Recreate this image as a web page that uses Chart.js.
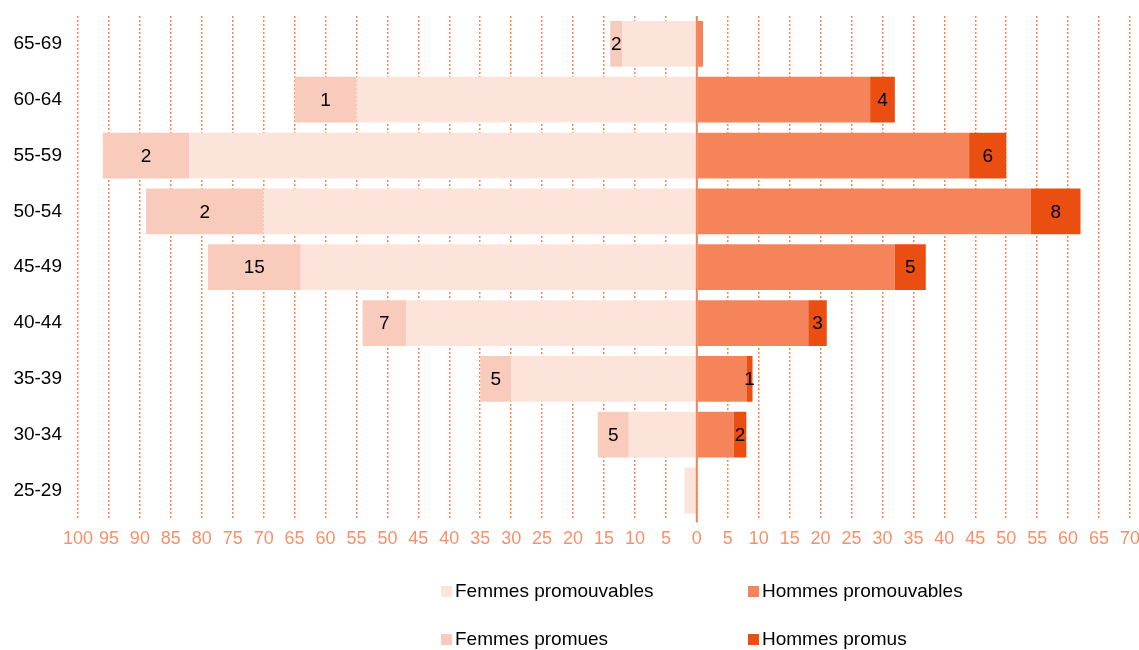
<!DOCTYPE html>
<html>
<head>
<meta charset="utf-8">
<script src="https://cdn.jsdelivr.net/npm/chart.js@4.4.1/dist/chart.umd.min.js"></script>
<style>
  html, body { margin: 0; padding: 0; background: #ffffff; }
  #wrap { position: relative; width: 1139px; height: 650px; }
</style>
</head>
<body>
<div id="wrap"><canvas id="c" width="1139" height="650"></canvas></div>
<script>
// ---- Data ----
const categories = ["65-69", "60-64", "55-59", "50-54", "45-49", "40-44", "35-39", "30-34", "25-29"];
const femmesPromouvables = [12, 55, 82, 70, 64, 47, 30, 11, 2];
const femmesPromues = [2, 10, 14, 19, 15, 7, 5, 5, 0];
const hommesPromouvables = [1, 28, 44, 54, 32, 18, 8, 6, 0];
const hommesPromus = [0, 4, 6, 8, 5, 3, 1, 2, 0];
const femmesLabels = ["2", "1", "2", "2", "15", "7", "5", "5", ""];
const hommesLabels = ["", "4", "6", "8", "5", "3", "1", "2", ""];
const seriesNames = ["Femmes promouvables", "Hommes promouvables", "Femmes promues", "Hommes promus"];
const axisMin = -100, axisMax = 70, axisStep = 5;

const colors = {
  fPromouvables: "#FCE4DB",
  fPromues: "#F9CBBC",
  hPromouvables: "#F5845B",
  hPromus: "#EA4E10",
  grid: "#F5845B",
  tick: "#F5916A"
};
const FONT = "'Liberation Sans', Arial, sans-serif";

// Bar labels plugin
const barLabels = {
  id: "barLabels",
  afterDatasetsDraw(chart) {
    const ctx = chart.ctx;
    ctx.save();
    ctx.font = "19px " + FONT;
    ctx.fillStyle = "#000000";
    ctx.textAlign = "center";
    ctx.textBaseline = "middle";
    chart.data.datasets.forEach((ds, di) => {
      if (!ds.segLabels) return;
      const meta = chart.getDatasetMeta(di);
      meta.data.forEach((el, i) => {
        const t = ds.segLabels[i];
        if (!t) return;
        const p = el.getProps(["x", "y", "base"], true);
        ctx.fillText(t, (p.x + p.base) / 2, p.y + 1);
      });
    });
    ctx.restore();
  }
};

// Zero line plugin
const zeroLine = {
  id: "zeroLine",
  afterDatasetsDraw(chart) {
    const x = chart.scales.x.getPixelForValue(0);
    const a = chart.chartArea;
    const ctx = chart.ctx;
    ctx.save();
    ctx.strokeStyle = colors.grid;
    ctx.lineWidth = 2;
    ctx.beginPath();
    ctx.moveTo(x, a.top);
    ctx.lineTo(x, a.bottom + 4);
    ctx.stroke();
    ctx.restore();
  }
};

// 2x2 legend plugin
const gridLegend = {
  id: "gridLegend",
  afterDraw(chart) {
    const ctx = chart.ctx;
    const W = chart.width, H = chart.height;
    const cols = [W * 441 / 1139, W * 748 / 1139];
    const rows = [H - 58, H - 10];
    ctx.save();
    ctx.font = "19px " + FONT;
    ctx.textBaseline = "middle";
    ctx.textAlign = "left";
    chart.data.datasets.forEach((ds, i) => {
      const cx = cols[i % 2], cy = rows[Math.floor(i / 2)];
      ctx.fillStyle = ds.backgroundColor;
      ctx.fillRect(cx, cy - 6, 11, 11);
      ctx.fillStyle = "#000000";
      ctx.fillText(ds.label, cx + 14, cy);
    });
    ctx.restore();
  }
};

new Chart(document.getElementById("c"), {
  type: "bar",
  data: {
    labels: categories,
    datasets: [
      { label: seriesNames[0], data: femmesPromouvables.map(v => -v), backgroundColor: colors.fPromouvables },
      { label: seriesNames[1], data: hommesPromouvables, backgroundColor: colors.hPromouvables },
      { label: seriesNames[2], data: femmesPromues.map(v => -v), backgroundColor: colors.fPromues, segLabels: femmesLabels },
      { label: seriesNames[3], data: hommesPromus, backgroundColor: colors.hPromus, segLabels: hommesLabels }
    ]
  },
  options: {
    indexAxis: "y",
    responsive: false,
    animation: false,
    maintainAspectRatio: false,
    categoryPercentage: 1,
    barPercentage: 0.82,
    layout: { padding: { top: 16, bottom: 90, left: 0, right: 0 } },
    plugins: {
      legend: { display: false },
      tooltip: { enabled: false }
    },
    scales: {
      x: {
        stacked: true,
        min: axisMin,
        max: axisMax,
        afterFit(scale) { scale.paddingRight = 9; scale.paddingLeft = 0; },
        ticks: {
          stepSize: axisStep,
          color: colors.tick,
          font: { size: 18, family: FONT },
          padding: 10,
          maxRotation: 0,
          autoSkip: false,
          callback: v => String(Math.abs(v))
        },
        grid: { color: colors.grid, lineWidth: 1.5, drawTicks: false },
        border: { display: false, dash: [2, 2] }
      },
      y: {
        stacked: true,
        afterFit(scale) { scale.width = 78; scale.paddingTop = 0; scale.paddingBottom = 0; },
        ticks: {
          color: "#000000",
          font: { size: 19, family: FONT },
          padding: 16
        },
        grid: { display: false, drawTicks: false },
        border: { display: false }
      }
    }
  },
  plugins: [barLabels, zeroLine, gridLegend]
});
</script>
</body>
</html>
